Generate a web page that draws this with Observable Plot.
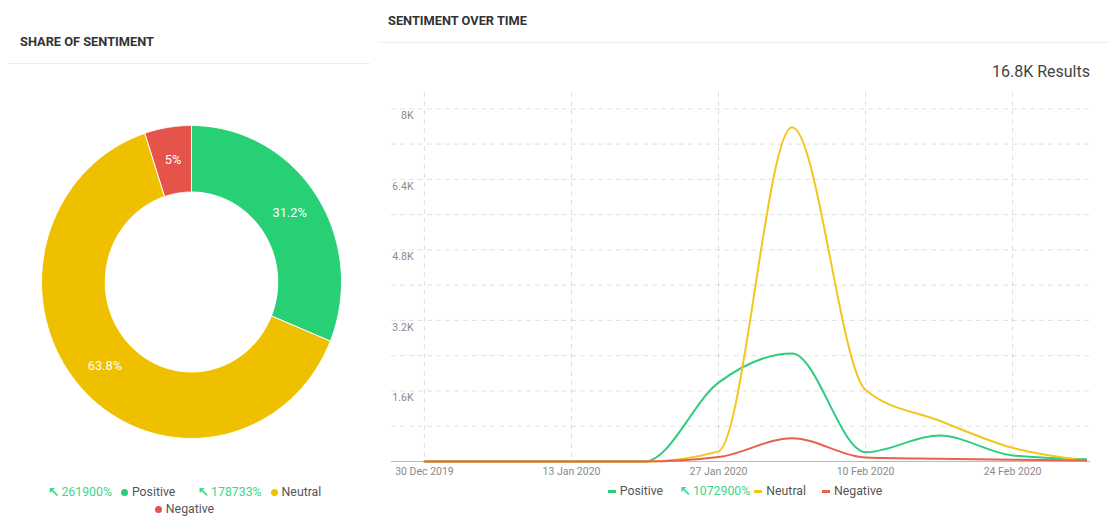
<!DOCTYPE html>
<html><head><meta charset="utf-8">
<script src="https://cdn.jsdelivr.net/npm/d3@7"></script>
<script src="https://cdn.jsdelivr.net/npm/@observablehq/plot@0.6"></script>
<style>
body{margin:0;background:#fff;font-family:Roboto,"Noto Sans",sans-serif;}
#root{position:relative;width:1109px;height:518px;overflow:hidden;background:#fff;}
.title{position:absolute;font-size:12.8px;font-weight:700;color:#333;white-space:nowrap;}
.sep{position:absolute;height:1px;background:#eceef0;}
.results{position:absolute;right:19px;top:62px;font-size:16px;color:#444;white-space:nowrap;}
.legend{position:absolute;display:flex;flex-wrap:wrap;justify-content:center;align-items:center;font-size:12.3px;color:#555;}
.legend .item{display:flex;align-items:center;white-space:nowrap;}
.chg{color:#40d68b;margin-right:9px;display:flex;align-items:center;}
.chg b{font-size:14px;font-weight:900;margin-right:2px;font-family:"DejaVu Sans",sans-serif;}
.dot{display:inline-block;width:7px;height:7px;border-radius:50%;margin-right:4px;}
.dash{display:inline-block;width:8px;height:3px;margin-right:4px;}
#donut{position:absolute;left:0;top:90px;}
#lines{position:absolute;left:380px;top:85px;}
</style></head><body>
<div id="root">
  <div class="title" style="left:20px;top:34px">SHARE OF SENTIMENT</div>
  <div class="sep" style="left:8px;width:362px;top:63px"></div>
  <div class="title" style="left:388px;top:13px">SENTIMENT OVER TIME</div>
  <div class="sep" style="left:378px;width:731px;top:42px"></div>
  <div class="results" id="results"></div>
  <div id="donut"></div>
  <div id="lines"></div>
  <div class="legend" id="leftLegend" style="left:22px;width:325px;top:484px;row-gap:2px;"></div>
  <div class="legend" id="rightLegend" style="left:440px;width:610px;top:483px;"></div>
</div>
<script>
// ---- data ----
const sentiments = ["Positive", "Neutral", "Negative"];
const shares = [31.2, 63.8, 5];
const shareLabels = ["31.2%", "63.8%", "5%"];
const shareChanges = ["261900%", "178733%", null];
const dates = ["2019-12-30","2020-01-06","2020-01-13","2020-01-20","2020-01-27","2020-02-03","2020-02-10","2020-02-17","2020-02-24","2020-03-02"];
const positive = [0, 0, 0, 0, 1790, 2450, 210, 590, 136, 50];
const neutral  = [0, 0, 0, 0, 230, 7580, 1620, 930, 310, 20];
const negative = [0, 0, 0, 0, 100, 530, 90, 60, 40, 20];
const xTickLabels = ["2019-12-30","2020-01-13","2020-01-27","2020-02-10","2020-02-24"];
const yTickLabels = [1600, 3200, 4800, 6400, 8000];
const lineChanges = [null, "1072900%", null];
const resultsLabel = "16.8K Results";

// ---- styles ----
const donutColors = ["#27cf75", "#efc000", "#e5534b"];
const lineColors = ["#2fcc7f", "#f3c51d", "#e8604f"];

document.getElementById("results").textContent = resultsLabel;

// ---- donut ----
const INNER = 0.575;
const total = d3.sum(shares);
const donutPts = [];
const donutLabels = [];
let acc = 0;
sentiments.forEach((s, i) => {
  const a0 = acc / total * 2 * Math.PI;
  acc += shares[i];
  const a1 = acc / total * 2 * Math.PI;
  const n = 80;
  for (let k = 0; k <= n; k++) { const a = a0 + (a1 - a0) * k / n; donutPts.push({key: s, x: Math.sin(a), y: Math.cos(a)}); }
  for (let k = n; k >= 0; k--) { const a = a0 + (a1 - a0) * k / n; donutPts.push({key: s, x: INNER * Math.sin(a), y: INNER * Math.cos(a)}); }
  const am = (a0 + a1) / 2, rm = (1 + INNER) / 2;
  donutLabels.push({text: shareLabels[i], x: rm * Math.sin(am), y: rm * Math.cos(am)});
});
const RX = 150, RY = 156.5, CX = 191, CY = 191.5, DW = 370, DH = 380;
const donutPlot = Plot.plot({
  width: DW, height: DH, margin: 0,
  style: {fontFamily: "Roboto, 'Noto Sans', sans-serif"},
  x: {domain: [-CX / RX, (DW - CX) / RX], axis: null},
  y: {domain: [-(DH - CY) / RY, CY / RY], axis: null},
  color: {domain: sentiments, range: donutColors},
  marks: [
    Plot.line(donutPts, {x: "x", y: "y", z: "key", fill: "key", stroke: "white", strokeWidth: 1, curve: "linear-closed"}),
    Plot.text(donutLabels, {x: "x", y: "y", text: "text", fill: "white", fontSize: 12.8, fontWeight: 400})
  ]
});
document.getElementById("donut").appendChild(donutPlot);

// ---- line chart ----
const parse = d3.utcParse("%Y-%m-%d");
const seriesValues = [positive, neutral, negative];
const lineData = [];
sentiments.forEach((s, i) => dates.forEach((d, j) => lineData.push({key: s, date: parse(d), value: seriesValues[i][j]})));
const xTicks = xTickLabels.map(parse);
const gridY = d3.range(800, 8001, 800);
const linePlot = Plot.plot({
  width: 720, height: 400,
  marginLeft: 11, marginRight: 10, marginTop: 7, marginBottom: 24,
  style: {fontFamily: "Roboto, 'Noto Sans', sans-serif"},
  x: {type: "utc", domain: [new Date(Date.UTC(2019, 11, 26, 20, 40)), new Date(Date.UTC(2020, 2, 2, 10))]},
  y: {domain: [0, 8370]},
  color: {domain: sentiments, range: lineColors},
  marks: [
    Plot.gridY(gridY, {stroke: "#000", strokeOpacity: 0.12, strokeDasharray: "5,4"}),
    Plot.gridX(xTicks, {stroke: "#000", strokeOpacity: 0.12, strokeDasharray: "5,4"}),
    Plot.ruleY([0], {stroke: "#bbb", strokeWidth: 1.2}),
    Plot.axisY(yTickLabels, {tickSize: 0, tickPadding: 0, textAnchor: "end", dx: 22, dy: 7, tickFormat: d => d / 1000 + "K", fill: "#8a8a8a", fontSize: 10.5, label: null}),
    Plot.axisX(xTicks, {tickSize: 0, tickPadding: 6, tickFormat: d3.utcFormat("%d %b %Y"), fill: "#8a8a8a", fontSize: 10.5, label: null}),
    Plot.line(lineData, {x: "date", y: "value", z: "key", stroke: "key", curve: "monotone-x", strokeWidth: 2})
  ]
});
document.getElementById("lines").appendChild(linePlot);

// ---- legends ----
const ll = document.getElementById("leftLegend");
sentiments.forEach((s, i) => {
  const it = document.createElement("span");
  it.className = "item";
  it.style.margin = "0 11px";
  if (shareChanges[i]) it.innerHTML += `<span class="chg"><b>&#8598;</b>${shareChanges[i]}</span>`;
  it.innerHTML += `<span class="dot" style="background:${donutColors[i]}"></span>${s}`;
  ll.appendChild(it);
});
const rl = document.getElementById("rightLegend");
sentiments.forEach((s, i) => {
  const it = document.createElement("span");
  it.className = "item";
  it.style.margin = "0 8px";
  if (lineChanges[i]) it.innerHTML += `<span class="chg" style="margin-right:4px"><b>&#8598;</b>${lineChanges[i]}</span>`;
  it.innerHTML += `<span class="dash" style="background:${lineColors[i]}"></span>${s}`;
  rl.appendChild(it);
});
</script>
</body></html>
